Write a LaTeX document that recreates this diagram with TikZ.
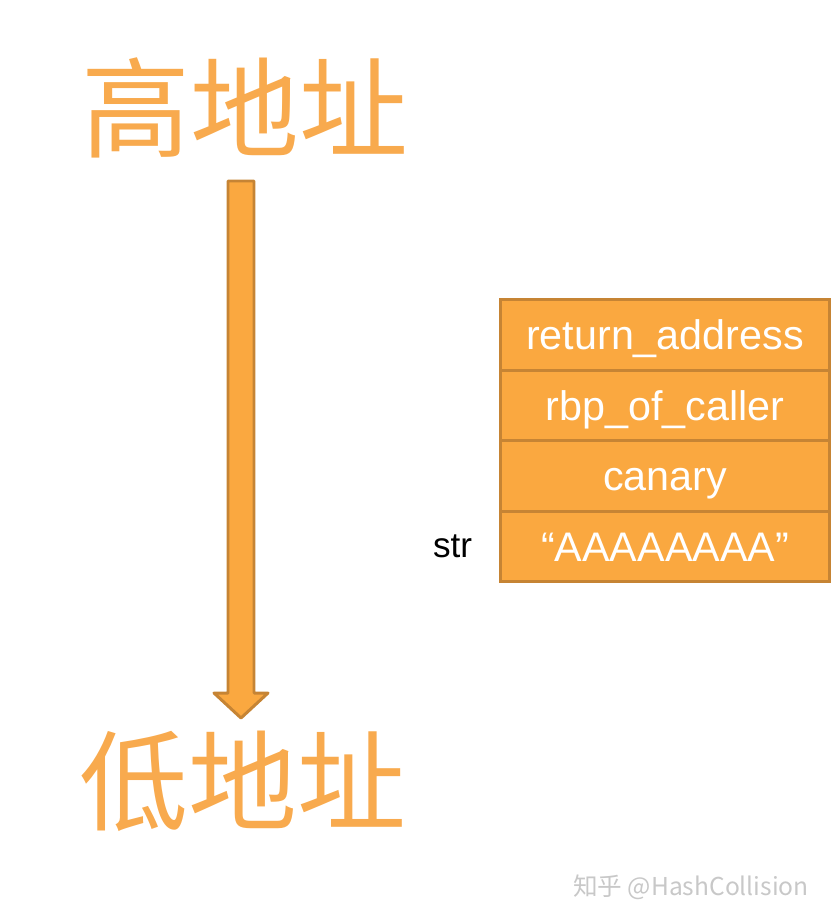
\documentclass[tikz,border=0pt]{standalone}
\usepackage{fontspec}
\setmainfont{Liberation Sans}
\newfontfamily\cjk{Noto Sans CJK SC}
\usetikzlibrary{positioning}
\definecolor{stackfill}{RGB}{250,168,64}
\definecolor{stackline}{RGB}{198,132,52}
\definecolor{addrcol}{RGB}{248,170,78}
\definecolor{markcol}{RGB}{200,200,200}
\tikzset{
  cell/.style={draw=stackline, fill=stackfill, line width=1.7pt,
    minimum width=6.6cm, minimum height=1.41cm, outer sep=0pt, inner sep=0pt,
    text height=16.8pt, text depth=0pt,
    text=white, font=\fontsize{23.5}{23.5}\selectfont},
  addr/.style={text=addrcol, font=\cjk\fontsize{62}{62}\selectfont, inner sep=0pt}
}

\begin{document}
\begin{tikzpicture}[x=0.02cm, y=-0.02cm]
	\useasboundingbox (0,0) rectangle (833,922);
	% addresses
	\node[addr] (high) at (245,108) {高地址};
	\node[addr] (low) at (243,781) {低地址};
	% growth arrow
	\draw[draw=stackline, fill=stackfill, line width=1.7pt, line join=round]
		(228,181) -- (254,181) -- (254,693) -- (268,693) -- (241,718)
		-- (214,693) -- (228,693) -- cycle;
	% stack frame
	\node[cell] (ret) at (665,335) {return\_address};
	\node[cell, below=0pt of ret] (rbp) {rbp\_of\_caller};
	\node[cell, below=0pt of rbp] (can) {canary};
	\node[cell, below=0pt of can] (buf) {“AAAAAAAA”};
	\node[left=0.55cm of buf, inner sep=0pt, font=\fontsize{20}{20}\selectfont] (str) {str};
	% watermark
	\node[text=markcol, font=\cjk\fontsize{14}{14}\selectfont] (mark) at (691,887) {知乎 @HashCollision};
\end{tikzpicture}
\end{document}
